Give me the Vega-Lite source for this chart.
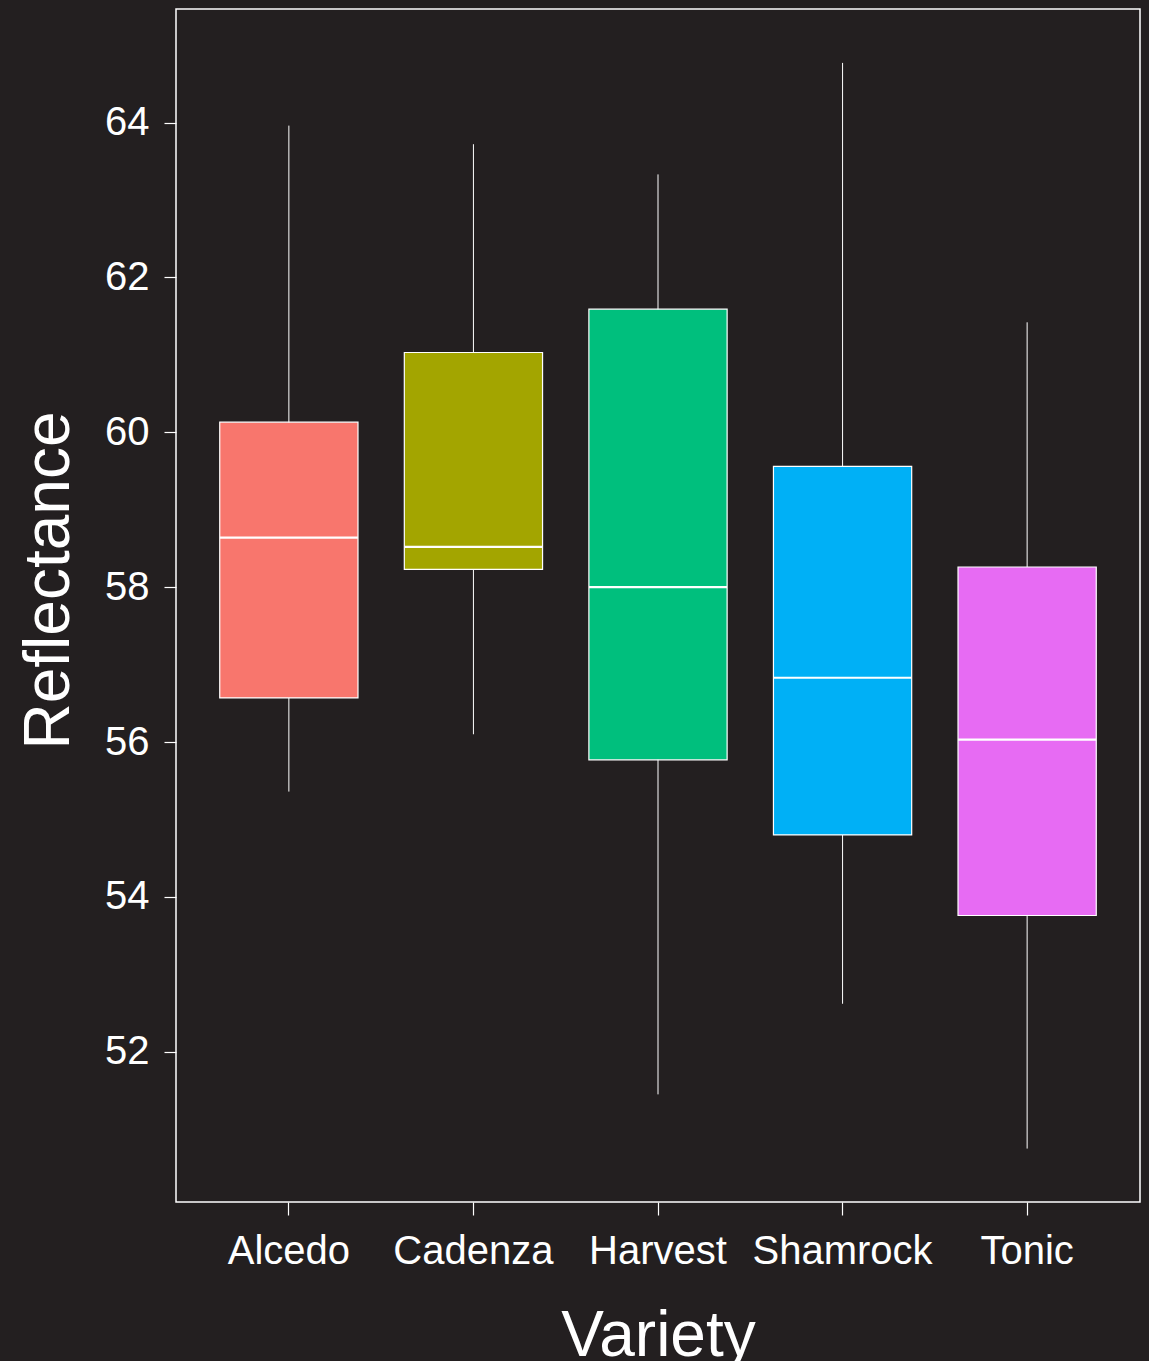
{
  "$schema": "https://vega.github.io/schema/vega-lite/v6.json",
  "autosize": {"type": "none"},
  "padding": {"left": 176, "top": 9, "right": 9, "bottom": 159},
  "width": 964,
  "height": 1193,
  "background": "#231f20",
  "config": {
    "view": {"stroke": "#ffffff", "strokeWidth": 1.5},
    "font": "Liberation Sans",
    "axis": {
      "grid": false,
      "domain": false,
      "tickColor": "#ffffff",
      "tickWidth": 1.2,
      "labelColor": "#ffffff",
      "labelFont": "Liberation Sans",
      "labelFontSize": 40,
      "labelLimit": 0,
      "titleColor": "#ffffff",
      "titleFont": "Liberation Sans",
      "titleFontSize": 64,
      "titleFontWeight": "normal"
    }
  },
  "data": {
    "values": [
      {"Variety": "Alcedo", "lower": 55.36, "q1": 56.57, "median": 58.64, "q3": 60.13, "upper": 63.96},
      {"Variety": "Cadenza", "lower": 56.10, "q1": 58.23, "median": 58.52, "q3": 61.03, "upper": 63.72},
      {"Variety": "Harvest", "lower": 51.45, "q1": 55.77, "median": 58.00, "q3": 61.59, "upper": 63.33},
      {"Variety": "Shamrock", "lower": 52.62, "q1": 54.80, "median": 56.83, "q3": 59.56, "upper": 64.77},
      {"Variety": "Tonic", "lower": 50.75, "q1": 53.76, "median": 56.03, "q3": 58.26, "upper": 61.42}
    ]
  },
  "encoding": {
    "x": {
      "field": "Variety",
      "type": "nominal",
      "sort": ["Alcedo", "Cadenza", "Harvest", "Shamrock", "Tonic"],
      "scale": {"paddingInner": 0.251, "paddingOuter": 0.237},
      "axis": {
        "title": "Variety",
        "labelAngle": 0,
        "tickSize": 13,
        "labelBaseline": "alphabetic",
        "labelPadding": 48,
        "titleBaseline": "alphabetic",
        "titleY": 153,
        "titleX": 482
      }
    }
  },
  "layer": [
    {
      "mark": {"type": "rule", "color": "#ffffff", "strokeWidth": 1},
      "encoding": {
        "y": {
          "field": "lower",
          "type": "quantitative",
          "scale": {"domain": [50.06, 65.466], "nice": false, "zero": false},
          "axis": {
            "title": "Reflectance",
            "values": [52, 54, 56, 58, 60, 62, 64],
            "format": "d",
            "tickSize": 12,
            "labelPadding": 15,
            "titleAngle": -90,
            "titleBaseline": "alphabetic",
            "titleAlign": "center",
            "titleX": -108,
            "titleY": 571
          }
        },
        "y2": {"field": "upper"}
      }
    },
    {
      "mark": {"type": "bar", "stroke": "#ffffff", "strokeWidth": 1.2},
      "encoding": {
        "y": {"field": "q1", "type": "quantitative"},
        "y2": {"field": "q3"},
        "fill": {
          "field": "Variety",
          "type": "nominal",
          "scale": {
            "domain": ["Alcedo", "Cadenza", "Harvest", "Shamrock", "Tonic"],
            "range": ["#F8766D", "#A3A500", "#00BF7D", "#00B0F6", "#E76BF3"]
          },
          "legend": null
        }
      }
    },
    {
      "mark": {"type": "tick", "color": "#ffffff", "size": 138, "thickness": 2.2, "opacity": 1},
      "encoding": {
        "y": {"field": "median", "type": "quantitative"}
      }
    }
  ]
}
